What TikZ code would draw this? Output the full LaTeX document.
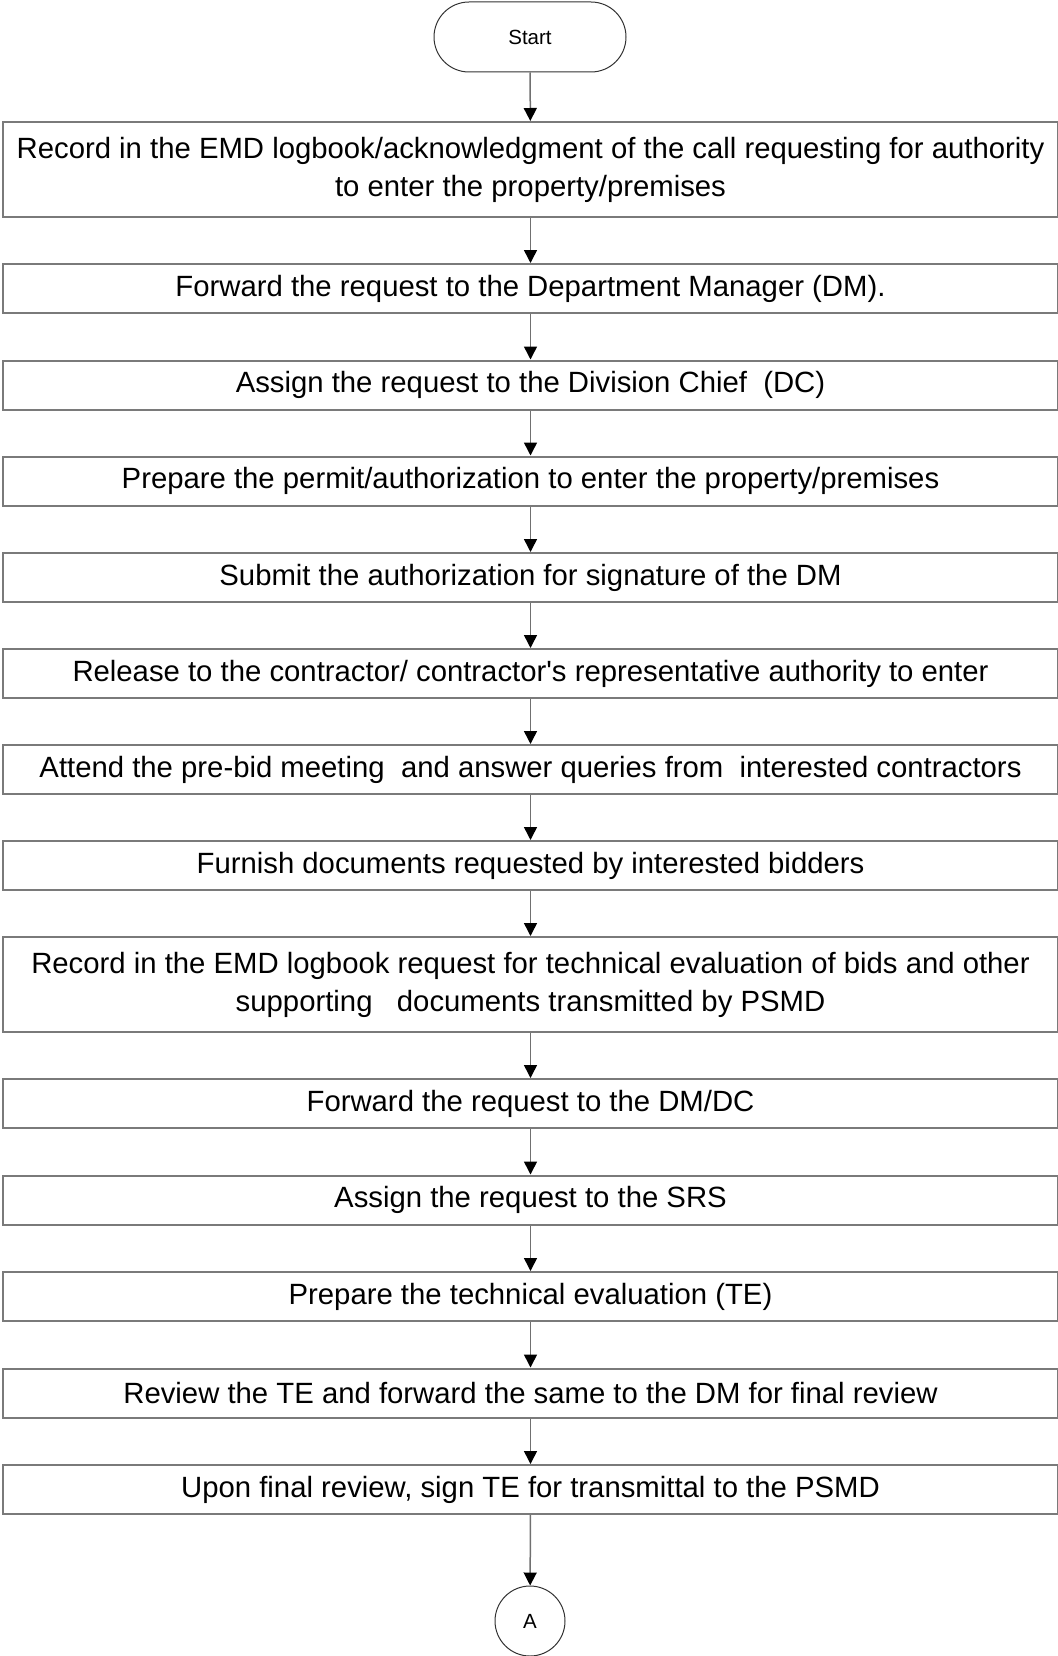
\documentclass[tikz,border=0pt]{standalone}
\usepackage{fontspec}
\setmainfont{Liberation Sans}
\usetikzlibrary{arrows.meta,shapes.misc,shapes.geometric}
\definecolor{boxgray}{HTML}{7A7A7A}
\definecolor{linegray}{HTML}{707070}
\tikzset{
  stepbox/.style={draw=boxgray, line width=2pt, minimum width=1055pt, minimum height=49pt,
    inner sep=0pt, align=center, font=\fontsize{29.3}{38}\selectfont},
  tallbox/.style={stepbox, minimum height=95pt},
  terminal/.style={draw=black!80, line width=1pt, rounded rectangle, minimum width=192pt,
    minimum height=70pt, inner sep=0pt, font=\fontsize{20.5}{24}\selectfont},
  connector/.style={draw=black!80, line width=1pt, ellipse, minimum width=70pt,
    minimum height=70pt, inner sep=0pt, font=\fontsize{20.5}{24}\selectfont},
  flow/.style={draw=linegray, line width=1.5pt, -{Triangle[length=13pt,width=13pt,color=black]}}
}
\begin{document}
\begin{tikzpicture}[x=1pt,y=-1pt]
\useasboundingbox (0,0) rectangle (1057,1656);
\node[terminal] (s) at (530,37) {Start};
\node[tallbox] (b1) at (530.5,169.5) {Record in the EMD logbook/acknowledgment of the call requesting for authority\\to enter the property/premises};
\node[stepbox] (b2) at (530.5,288.5) {Forward the request to the Department Manager (DM).};
\node[stepbox] (b3) at (530.5,385) {Assign the request to the Division Chief\ \ (DC)};
\node[stepbox] (b4) at (530.5,481) {Prepare the permit/authorization to enter the property/premises};
\node[stepbox] (b5) at (530.5,577.5) {Submit the authorization for signature of the DM};
\node[stepbox] (b6) at (530.5,673.5) {Release to the contractor/ contractor\textquotesingle s representative authority to enter};
\node[stepbox] (b7) at (530.5,769.5) {Attend the pre-bid meeting\ \ and answer queries from\ \ interested contractors};
\node[stepbox] (b8) at (530.5,865.5) {Furnish documents requested by interested bidders};
\node[tallbox] (b9) at (530.5,984.5) {Record in the EMD logbook request for technical evaluation of bids and other\\supporting\ \ \ documents transmitted by PSMD};
\node[stepbox] (b10) at (530.5,1103.5) {Forward the request to the DM/DC};
\node[stepbox] (b11) at (530.5,1200) {Assign the request to the SRS};
\node[stepbox] (b12) at (530.5,1296.5) {Prepare the technical evaluation (TE)};
\node[stepbox] (b13) at (530.5,1393) {Review the TE and forward the same to the DM for final review};
\node[stepbox] (b14) at (530.5,1489.5) {Upon final review, sign TE for transmittal to the PSMD};
\node[connector] (a) at (530,1621) {A};
\draw[flow] (s) -- (b1);
\draw[flow] (b1) -- (b2);
\draw[flow] (b2) -- (b3);
\draw[flow] (b3) -- (b4);
\draw[flow] (b4) -- (b5);
\draw[flow] (b5) -- (b6);
\draw[flow] (b6) -- (b7);
\draw[flow] (b7) -- (b8);
\draw[flow] (b8) -- (b9);
\draw[flow] (b9) -- (b10);
\draw[flow] (b10) -- (b11);
\draw[flow] (b11) -- (b12);
\draw[flow] (b12) -- (b13);
\draw[flow] (b13) -- (b14);
\draw[flow] (b14) -- (a);
\end{tikzpicture}
\end{document}
